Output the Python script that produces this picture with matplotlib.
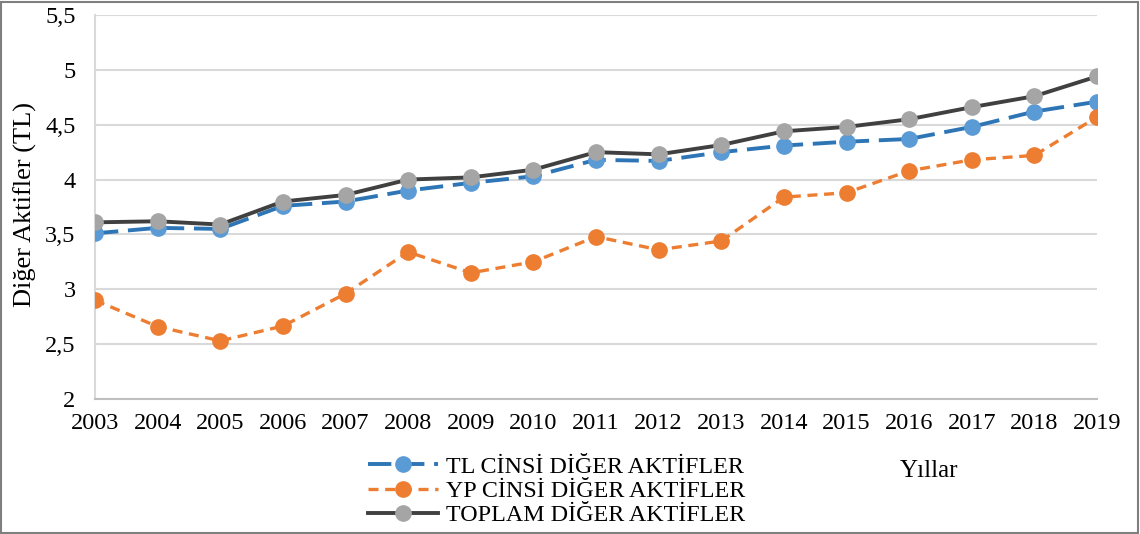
import matplotlib
matplotlib.use("Agg")
import matplotlib.pyplot as plt
from matplotlib.patches import Rectangle

years = list(range(2003, 2020))
tl_values = [3.51, 3.56, 3.55, 3.76, 3.80, 3.90, 3.97, 4.03, 4.18, 4.17, 4.25, 4.31, 4.345, 4.37, 4.48, 4.62, 4.71]
yp_values = [2.90, 2.66, 2.53, 2.665, 2.96, 3.34, 3.15, 3.25, 3.48, 3.36, 3.44, 3.84, 3.88, 4.08, 4.18, 4.22, 4.57]
total_values = [3.61, 3.62, 3.59, 3.80, 3.86, 4.00, 4.02, 4.09, 4.25, 4.23, 4.315, 4.44, 4.48, 4.55, 4.66, 4.76, 4.94]
series_labels = ["TL CİNSİ DİĞER AKTİFLER", "YP CİNSİ DİĞER AKTİFLER", "TOPLAM DİĞER AKTİFLER"]
y_ticks = [2, 2.5, 3, 3.5, 4, 4.5, 5, 5.5]
y_tick_labels = ["2", "2,5", "3", "3,5", "4", "4,5", "5", "5,5"]

plt.rcParams['font.family'] = ['Liberation Serif', 'DejaVu Serif']

fig = plt.figure(figsize=(11.4, 5.34), dpi=100)
ax = fig.add_axes([95/1140, 1-399/534, (1097-95)/1140, (399-15)/534])

fs = 17.5
ms = 11
ax.plot(years, tl_values, color='#2E75B6', lw=2.8, dashes=(6, 2.5), marker='o', ms=ms,
        mfc='#5B9BD5', mec='#5B9BD5', zorder=3, label=series_labels[0])
ax.plot(years, yp_values, color='#ED7D31', lw=2.4, dashes=(3, 2), marker='o', ms=ms,
        mfc='#ED7D31', mec='#ED7D31', zorder=4, label=series_labels[1])
ax.plot(years, total_values, color='#404040', lw=2.8, marker='o', ms=ms,
        mfc='#A5A5A5', mec='#A5A5A5', zorder=5, label=series_labels[2])

ax.set_xlim(2003, 2019)
ax.set_ylim(2, 5.5)
ax.set_xticks(years)
ax.set_xticklabels([str(y) for y in years], fontsize=fs)
ax.set_yticks(y_ticks)
ax.set_yticklabels(y_tick_labels, fontsize=fs)
ax.tick_params(axis='y', length=0, pad=14)
ax.tick_params(axis='x', length=0, pad=10)
ax.grid(axis='y', color='#D9D9D9', lw=1.5, zorder=0)
ax.grid(axis='x', color='white', lw=2, zorder=1)
ax.set_axisbelow(True)
for s in ['top', 'right']:
    ax.spines[s].set_visible(False)
ax.spines['left'].set_color('#D9D9D9')
ax.spines['left'].set_linewidth(1.5)
ax.spines['bottom'].set_color('#BFBFBF')
ax.spines['bottom'].set_linewidth(1.5)

fig.text(25/1140, 1-205/534, "Diğer Aktifler (TL)", rotation=90, fontsize=19,
         ha='center', va='center')
fig.text(929/1140, 1-471/534, "Yıllar", fontsize=18, ha='center', va='center')

handles, labels = ax.get_legend_handles_labels()
leg = fig.legend(handles, labels, loc='upper left', bbox_to_anchor=(368/1140, 1-456/534),
                 frameon=False, fontsize=17.3, handlelength=2.9, handletextpad=0.35,
                 labelspacing=0.1, borderpad=0, borderaxespad=0)

fig.patches.append(Rectangle((0.001, 0.002), 0.997, 0.995, transform=fig.transFigure,
                             fill=False, edgecolor='#7F7F7F', lw=1.5))

fig.savefig("out.png", dpi=100)
